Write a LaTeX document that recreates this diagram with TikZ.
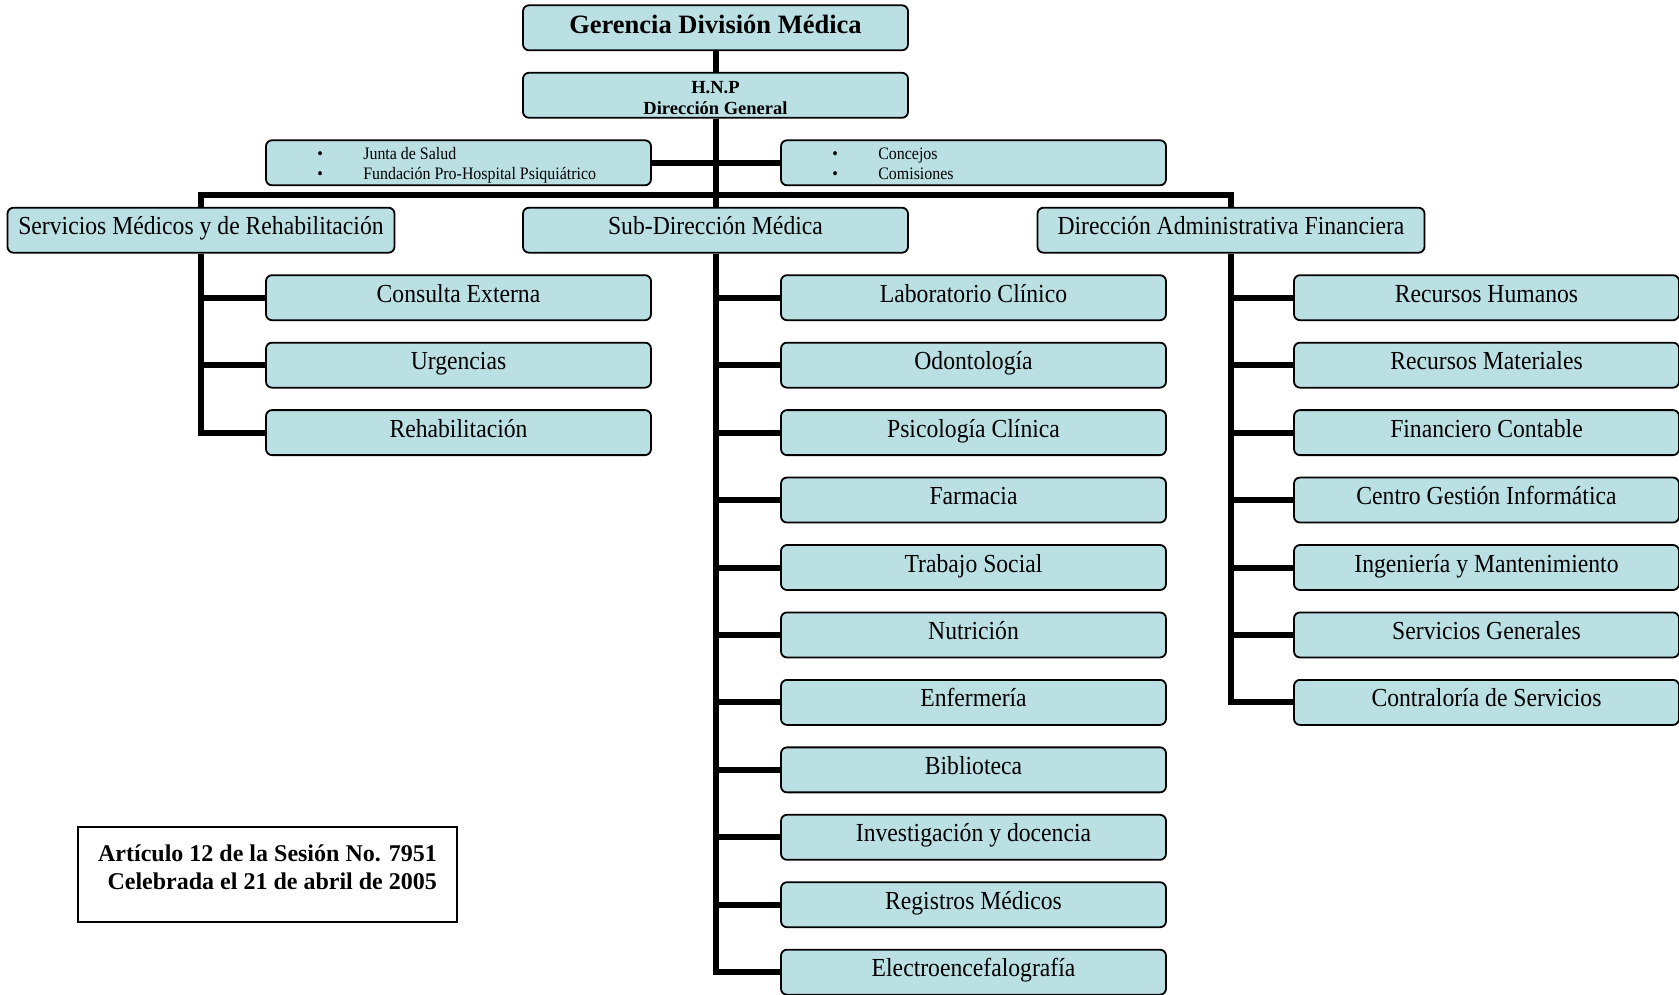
\documentclass[tikz,border=0pt]{standalone}
\usepackage{fontspec}
\setmainfont{Liberation Serif}
\newfontfamily\condfont{Liberation Serif}[FakeStretch=0.91]
\usetikzlibrary{backgrounds}
\definecolor{boxfill}{RGB}{186,224,228}
\begin{document}
\begin{tikzpicture}[x=1pt,y=-1pt,
  orgbox/.style={draw=black, line width=1.8pt, fill=boxfill, rounded corners=6pt,
    minimum width=385pt, minimum height=45pt, inner sep=0pt,
    text height=9pt, text depth=0pt, font=\condfont\fontsize{26}{30}\selectfont},
  widebox/.style={minimum width=387pt},
  titlebox/.style={orgbox, font=\bfseries\fontsize{26.5}{30}\selectfont, text height=11.6pt},
  conn/.style={line width=6pt, draw=black},
  notebox/.style={draw=black, line width=1.5pt, minimum width=379pt, minimum height=95pt,
    inner sep=0pt, font=\bfseries\fontsize{24}{28}\selectfont, text height=29pt, text depth=0pt}
  ]
\useasboundingbox (0,0) rectangle (1679,995);

\node[titlebox] (ger) at (715.5,27.8) {Gerencia División Médica};
\node[orgbox, font=\bfseries\fontsize{18.5}{21}\selectfont, text height=39pt] (hnp) at (715.5,95.3)
  {\begin{tabular}[b]{@{}c@{}}H.N.P\\Dirección General\end{tabular}};
\node[orgbox, font=\condfont\fontsize{17.5}{19.5}\selectfont, text height=33pt] (junta) at (458.5,162.8)
  {\makebox[385pt][l]{\hspace{51.4pt}\begin{tabular}[b]{@{}l@{\hspace{40.4pt}}l@{}}•&Junta de Salud\\•&Fundación Pro-Hospital Psiquiátrico\end{tabular}}};
\node[orgbox, font=\condfont\fontsize{17.5}{19.5}\selectfont, text height=33pt] (conc) at (973.5,162.8)
  {\makebox[385pt][l]{\hspace{51.4pt}\begin{tabular}[b]{@{}l@{\hspace{40.4pt}}l@{}}•&Concejos\\•&Comisiones\end{tabular}}};

\node[orgbox, widebox] (serv) at (201,230.2) {Servicios Médicos y de Rehabilitación};
\node[orgbox] (sub) at (715.5,230.2) {Sub-Dirección Médica};
\node[orgbox, widebox] (dir) at (1231,230.2) {Dirección Administrativa Financiera};

\foreach \t [count=\i from 0] in {Consulta Externa, Urgencias, Rehabilitación}
  \node[orgbox] (l\i) at (458.5,{297.7+67.45*\i}) {\t};
\foreach \t [count=\i from 0] in {Laboratorio Clínico, Odontología, Psicología Clínica, Farmacia,
  Trabajo Social, Nutrición, Enfermería, Biblioteca, Investigación y docencia,
  Registros Médicos, Electroencefalografía}
  \node[orgbox] (m\i) at (973.5,{297.7+67.45*\i}) {\t};
\foreach \t [count=\i from 0] in {Recursos Humanos, Recursos Materiales, Financiero Contable,
  Centro Gestión Informática, Ingeniería y Mantenimiento, Servicios Generales,
  Contraloría de Servicios}
  \node[orgbox] (r\i) at (1486.5,{297.7+67.45*\i}) {\t};

\node[notebox] (art) at (267.5,874.5)
  {\begin{tabular}[b]{@{}r@{}}Artículo 12 de la Sesión No. 7951\\Celebrada el 21 de abril de 2005\end{tabular}};

\begin{pgfonlayer}{background}
\draw[conn] (ger.south) -- (hnp.north);
\draw[conn] (hnp.south) -- (sub.north);
\draw[conn] (junta.east) -- (conc.west);
\draw[conn] (serv.north) -- ++(0,-11.7) -| (dir.north);
\draw[conn] (serv.south) |- (l2.west);
\foreach \i in {0,1} \draw[conn] (l\i.west) -- (l\i.west -| serv.south);
\draw[conn] (sub.south) |- (m10.west);
\foreach \i in {0,...,9} \draw[conn] (m\i.west) -- (m\i.west -| sub.south);
\draw[conn] (dir.south) |- (r6.west);
\foreach \i in {0,...,5} \draw[conn] (r\i.west) -- (r\i.west -| dir.south);
\end{pgfonlayer}
\end{tikzpicture}
\end{document}
